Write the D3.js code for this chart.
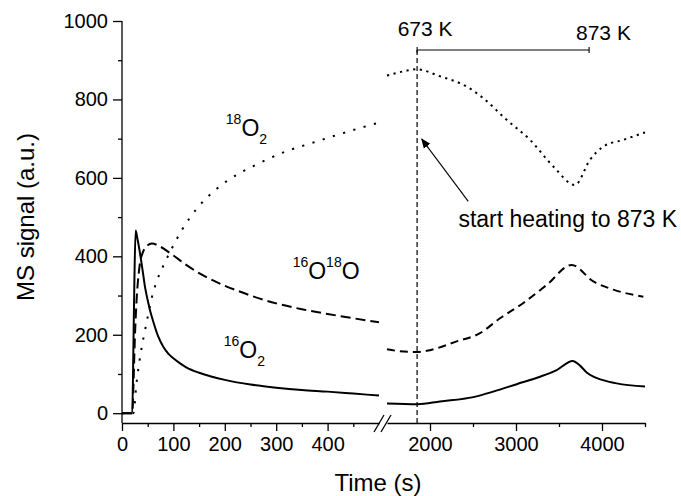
<!DOCTYPE html>
<html>
<head>
<meta charset="utf-8">
<script src="https://cdn.jsdelivr.net/npm/d3@7"></script>
<style>
  html, body { margin: 0; padding: 0; background: #fff; }
  svg { display: block; font-family: "Liberation Sans", Arial, sans-serif; }
  .axis path, .axis line { stroke: #000; stroke-width: 1.3; }
  .axis text { font-size: 20px; fill: #000; font-family: "Liberation Sans", Arial, sans-serif; }
</style>
</head>
<body>
<svg id="chart" width="681" height="496"></svg>
<script>
// ---- Data: left panel (0-500 s), right panel (1500-4500 s) ----
const o2_16_leftT   = [0, 20, 22, 24, 26.5, 30, 35, 40, 45, 50, 55, 60, 70, 80, 90, 100, 113, 125, 150, 175, 200, 250, 300, 350, 400, 450, 500];
const o2_16_leftV   = [0, 0, 150, 330, 466, 445, 408, 365, 320, 288, 260, 237, 197, 170, 152, 140, 127, 117, 103, 93, 85, 73, 65, 59, 55, 50, 45];

const o16o18_leftT  = [0, 20, 22, 25, 28, 32, 36, 40, 50, 58, 74, 100, 125, 150, 175, 200, 225, 250, 300, 350, 400, 450, 500];
const o16o18_leftV  = [0, 0, 60, 190, 280, 350, 390, 408, 428, 433, 425, 402, 378, 357, 340, 325, 312, 300, 280, 265, 253, 242, 232];

const o2_18_leftT   = [0, 22, 28.5, 36, 43, 50, 58, 68, 80, 93, 105, 116, 132, 149, 184, 226, 268, 314, 372, 437, 500];
const o2_18_leftV   = [0, 0, 80, 150, 200, 245, 295, 338, 375, 410, 440, 466, 498, 527, 572, 610, 638, 665, 690, 717, 741];

const o2_16_rightT  = [1500, 1857, 2116, 2503, 2736, 3008, 3279, 3473, 3659, 3750, 3822, 3900, 4000, 4171, 4500];
const o2_16_rightV  = [25, 23, 30, 41, 55, 74, 93, 110, 133, 120, 104, 93, 85, 76, 68];

const o16o18_rightT = [1500, 1650, 1857, 1961, 2310, 2581, 2814, 3085, 3357, 3647, 3899, 4132, 4481];
const o16o18_rightV = [163, 158, 156, 159, 183, 204, 242, 281, 327, 378, 336, 315, 297];

const o2_18_rightT  = [1500, 1700, 1840, 2116, 2426, 2620, 2891, 3163, 3434, 3686, 3860, 4016, 4248, 4500];
const o2_18_rightV  = [861, 872, 877, 859, 833, 803, 748, 697, 629, 582, 646, 680, 697, 716];

// Tick values
const yMajorTicks = [0, 200, 400, 600, 800, 1000];
const yMinorTicks = [100, 300, 500, 700, 900];
const xLeftMajor  = [0, 100, 200, 300, 400];
const xLeftMinor  = [50, 150, 250, 350, 450];
const xRightMajor = [2000, 3000, 4000];
const xRightMinor = [2500, 3500, 4500];

// Annotation values
const heatStart = 1850;      // s, start of heating
const heatEnd   = 3850;      // s, 873 K reached

// ---- Scales ----
const svg = d3.select("#chart");
const y = d3.scaleLinear().domain([-25, 1000]).range([423, 21]);
const xL = d3.scaleLinear().domain([0, 500]).range([122, 379]);
const xR = d3.scaleLinear().domain([1500, 4500]).range([387, 645]);
const axisY = 423;
const fmt = d3.format("d");

// ---- Axes ----
// y axis
const yAxis = svg.append("g").attr("class", "axis").attr("transform", `translate(${xL(0)},0)`);
yAxis.call(d3.axisLeft(y).tickValues(yMajorTicks).tickFormat(fmt).tickSize(9).tickPadding(5).tickSizeOuter(0));
yAxis.select(".domain").attr("d", `M0,${y.range()[1]}V${axisY}`);
svg.append("g").attr("class", "axis").attr("transform", `translate(${xL(0)},0)`)
  .call(d3.axisLeft(y).tickValues(yMinorTicks).tickSize(4).tickFormat(""))
  .select(".domain").remove();

// bottom axis, left part
svg.append("g").attr("class", "axis").attr("transform", `translate(0,${axisY})`)
  .call(d3.axisBottom(xL).tickValues(xLeftMajor).tickFormat(fmt).tickSize(8).tickPadding(6).tickSizeOuter(0));
svg.append("g").attr("class", "axis").attr("transform", `translate(0,${axisY})`)
  .call(d3.axisBottom(xL).tickValues(xLeftMinor).tickSize(4).tickFormat(""))
  .select(".domain").remove();

// bottom axis, right part
svg.append("g").attr("class", "axis").attr("transform", `translate(0,${axisY})`)
  .call(d3.axisBottom(xR).tickValues(xRightMajor).tickFormat(fmt).tickSize(8).tickPadding(6).tickSizeOuter(0));
svg.append("g").attr("class", "axis").attr("transform", `translate(0,${axisY})`)
  .call(d3.axisBottom(xR).tickValues(xRightMinor).tickSize(4).tickFormat(""))
  .select(".domain").remove();

// axis break marks "//"
const brk = svg.append("g").attr("stroke", "#000").attr("stroke-width", 1.3);
[0, 7].forEach(dx => {
  brk.append("line")
    .attr("x1", xL(500) - 5 + dx).attr("y1", axisY + 9)
    .attr("x2", xL(500) + 5 + dx).attr("y2", axisY - 8);
});

// axis titles
svg.append("text").attr("x", 378).attr("y", 491)
  .attr("text-anchor", "middle").attr("font-size", 24).text("Time (s)");
svg.append("text").attr("transform", "translate(34,217) rotate(-90)")
  .attr("text-anchor", "middle").attr("font-size", 24).text("MS signal (a.u.)");

// ---- Curves ----
function drawSeries(xs, ts, vs, dash) {
  const pts = ts.map((t, i) => [t, vs[i]]);
  const line = d3.line().x(d => xs(d[0])).y(d => y(d[1])).curve(d3.curveMonotoneX);
  svg.append("path").datum(pts)
    .attr("d", line)
    .attr("fill", "none")
    .attr("stroke", "#000")
    .attr("stroke-width", 2)
    .attr("stroke-dasharray", dash)
    .attr("stroke-linejoin", "round");
}
drawSeries(xL, o2_16_leftT, o2_16_leftV, null);
drawSeries(xL, o16o18_leftT, o16o18_leftV, "10,5");
drawSeries(xL, o2_18_leftT, o2_18_leftV, "2.2,8.5");
drawSeries(xR, o2_16_rightT, o2_16_rightV, null);
drawSeries(xR, o16o18_rightT, o16o18_rightV, "8,5");
drawSeries(xR, o2_18_rightT, o2_18_rightV, "2.2,4.5");

// ---- Annotations ----
// start-of-heating marker
svg.append("line")
  .attr("x1", xR(heatStart)).attr("x2", xR(heatStart))
  .attr("y1", y(926)).attr("y2", axisY)
  .attr("stroke", "#000").attr("stroke-width", 1.2)
  .attr("stroke-dasharray", "5,3");

// heating ramp bracket
svg.append("line")
  .attr("x1", xR(heatStart)).attr("x2", xR(heatEnd))
  .attr("y1", y(926)).attr("y2", y(926))
  .attr("stroke", "#000").attr("stroke-width", 1.1);
[heatStart, heatEnd].forEach(t => {
  svg.append("line")
    .attr("x1", xR(t)).attr("x2", xR(t))
    .attr("y1", y(926) - 3).attr("y2", y(926) + 3)
    .attr("stroke", "#000").attr("stroke-width", 1.1);
});
svg.append("text").attr("x", xR(1624)).attr("y", y(961)).attr("font-size", 21).text("673 K");
svg.append("text").attr("x", xR(3698)).attr("y", y(952)).attr("font-size", 21).text("873 K");

// arrow to the heating marker
svg.append("defs").append("marker")
  .attr("id", "arrowhead").attr("viewBox", "0 0 10 10")
  .attr("refX", 9).attr("refY", 5)
  .attr("markerWidth", 10).attr("markerHeight", 10)
  .attr("markerUnits", "userSpaceOnUse")
  .attr("orient", "auto")
  .append("path").attr("d", "M0,1 L10,5 L0,9 Z").attr("fill", "#000");
svg.append("line")
  .attr("x1", xR(2445)).attr("y1", y(540))
  .attr("x2", xR(1904)).attr("y2", y(699))
  .attr("stroke", "#000").attr("stroke-width", 1.1)
  .attr("marker-end", "url(#arrowhead)");
svg.append("text").attr("x", xR(2330)).attr("y", y(474)).attr("font-size", 23)
  .text("start heating to 873 K");

// series labels with isotope super/subscripts
function isoLabel(t, v, parts) {
  const txt = svg.append("text").attr("x", xL(t)).attr("y", y(v));
  let offset = 0;
  parts.forEach(([s, kind]) => {
    const target = kind === "sup" ? -12 : kind === "sub" ? 8 : 0;
    txt.append("tspan")
      .attr("font-size", kind === "main" ? 23 : 14)
      .attr("dy", target - offset)
      .text(s);
    offset = target;
  });
}
isoLabel(202, 707, [["18", "sup"], ["O", "main"], ["2", "sub"]]);
isoLabel(332, 342, [["16", "sup"], ["O", "main"], ["18", "sup"], ["O", "main"]]);
isoLabel(198, 142, [["16", "sup"], ["O", "main"], ["2", "sub"]]);
</script>
</body>
</html>
